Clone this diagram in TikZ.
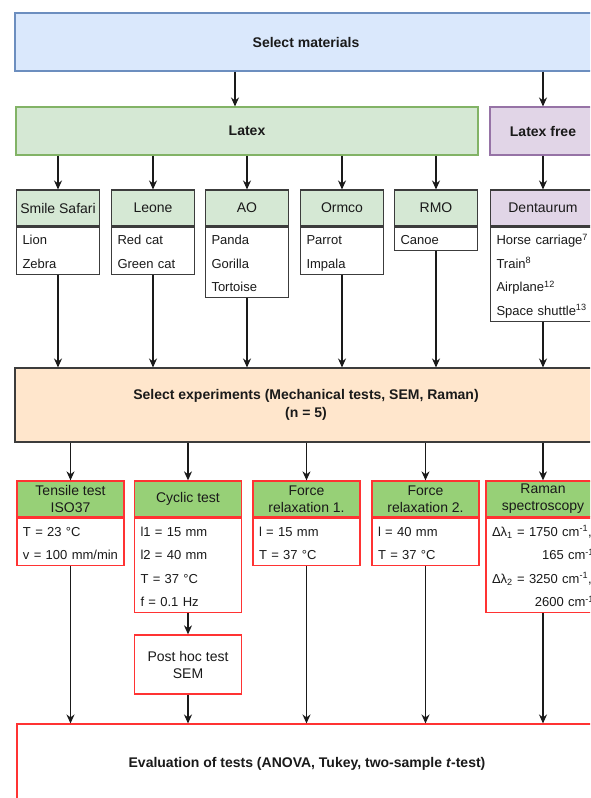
\documentclass[tikz,border=0pt]{standalone}
\usepackage{fontspec}
\setmainfont{Liberation Sans}
\usetikzlibrary{arrows.meta,positioning}
\definecolor{ink}{HTML}{1A1A1A}
\definecolor{bluebg}{HTML}{DAE8FC}
\definecolor{blueline}{HTML}{6C8EBF}
\definecolor{greenbg}{HTML}{D5E8D4}
\definecolor{greenline}{HTML}{82B366}
\definecolor{purplebg}{HTML}{E1D5E7}
\definecolor{purpleline}{HTML}{9673A6}
\definecolor{orangebg}{HTML}{FFE6CC}
\definecolor{testgreen}{HTML}{97D077}
\definecolor{testred}{HTML}{FF3333}
\newcommand\rowstrut{\rule[-2.3pt]{0pt}{16.5pt}}
\tikzset{
  >={Stealth[length=9pt,width=8pt]},
  every node/.style={text=ink,font=\fontsize{13}{15}\selectfont},
  stage/.style={draw=blueline,fill=bluebg,line width=1.1pt,align=center,inner sep=0pt,font=\fontsize{14}{18}\selectfont\bfseries},
  group/.style={stage,draw=greenline,fill=greenbg},
  freegroup/.style={stage,draw=purpleline,fill=purplebg},
  expbox/.style={stage,draw=ink!85,fill=orangebg},
  evalbox/.style={stage,draw=testred,fill=white},
  brand/.style={draw=ink!85,fill=greenbg,line width=1.1pt,minimum width=83pt,minimum height=36pt,inner sep=0pt,font=\fontsize{14}{17}\selectfont},
  itemlist/.style={draw=ink!85,fill=white,line width=1.1pt,text width=71pt,align=left,inner xsep=6pt,inner ysep=0pt,font=\fontsize{13}{23.5}\selectfont,
    execute at begin node=\rowstrut,execute at end node=\rowstrut},
  nrows/.style={minimum height=#1*23.5pt},
  testhead/.style={draw=testred,fill=testgreen,line width=1.3pt,minimum width=107pt,minimum height=36pt,inner sep=0pt,align=center,font=\fontsize{14}{17}\selectfont},
  testlist/.style={itemlist,draw=testred,line width=1.3pt,text width=95pt},
  testbox/.style={testhead,fill=white,minimum height=59pt},
  arrow/.style={->,line width=1.2pt,draw=ink}
}

\begin{document}
\begin{tikzpicture}[x=1pt,y=-1pt,node distance=0pt]
  \useasboundingbox (0,0) rectangle (590,798);
  \clip (0,0) rectangle (590,798);

  \node[stage,minimum width=582pt,minimum height=58pt] (materials) at (306,42) {Select materials};
  \node[group,minimum width=462pt,minimum height=48pt] (latex) at (247,131) {Latex};
  \node[freegroup,minimum width=106pt,minimum height=48pt] (free) at (543,131) {Latex free};

  \draw[arrow] ([xshift=-12pt]latex.north |- materials.south) -- ([xshift=-12pt]latex.north);
  \draw[arrow] (free.north |- materials.south) -- (free.north);

  \node[brand] (smile) at (58,208) {Smile Safari};
  \node[itemlist,nrows=2,below=of smile] (smile-list) {Lion\\Zebra};
  \node[brand] (leone) at (153,208) {Leone};
  \node[itemlist,nrows=2,below=of leone] (leone-list) {Red cat\\Green cat};
  \node[brand] (ao) at (247,208) {AO};
  \node[itemlist,nrows=3,below=of ao] (ao-list) {Panda\\Gorilla\\Tortoise};
  \node[brand] (ormco) at (342,208) {Ormco};
  \node[itemlist,nrows=2,below=of ormco] (ormco-list) {Parrot\\Impala};
  \node[brand] (rmo) at (436,208) {RMO};
  \node[itemlist,nrows=1,below=of rmo] (rmo-list) {Canoe};
  \node[brand,fill=purplebg,minimum width=105pt] (dentaurum) at (543,208) {Dentaurum};
  \node[itemlist,nrows=4,text width=93pt,below=of dentaurum] (dentaurum-list) {Horse carriage\textsuperscript{7}\\Train\textsuperscript{8}\\Airplane\textsuperscript{12}\\Space shuttle\textsuperscript{13}};

  \foreach \brand in {smile,leone,ao,ormco,rmo}
    \draw[arrow] (latex.south -| \brand) -- (\brand.north);
  \draw[arrow] (free) -- (dentaurum);

  \node[expbox,minimum width=582pt,minimum height=74pt] (experiments) at (306,405) {Select experiments (Mechanical tests, SEM, Raman)\\(n = 5)};

  \foreach \brand in {smile,leone,ao,ormco,rmo,dentaurum}
    \draw[arrow] (\brand-list) -- (\brand-list |- experiments.north);

  \node[testhead] (tensile) at (70.5,499) {Tensile test\\ISO37};
  \node[testlist,nrows=2,below=of tensile] (tensile-list) {T = 23 °C\\v = 100 mm/min};
  \node[testhead] (cyclic) at (188,499) {Cyclic test};
  \node[testlist,nrows=4,below=of cyclic] (cyclic-list) {l1 = 15 mm\\l2 = 40 mm\\T = 37 °C\\f = 0.1 Hz};
  \node[testhead] (force1) at (306.5,499) {Force\\relaxation 1.};
  \node[testlist,nrows=2,below=of force1] (force1-list) {l = 15 mm\\T = 37 °C};
  \node[testhead] (force2) at (425.5,499) {Force\\relaxation 2.};
  \node[testlist,nrows=2,below=of force2] (force2-list) {l = 40 mm\\T = 37 °C};
  \node[testhead,minimum width=114pt] (raman) at (543,499) {Raman\\spectroscopy};
  \node[testlist,nrows=4,text width=102pt,below=of raman] (raman-list) {\mbox{Δλ\textsubscript{1} = 1750 cm\textsuperscript{-1},}\\\hspace*{\fill}165 cm\textsuperscript{-1}\\\mbox{Δλ\textsubscript{2} = 3250 cm\textsuperscript{-1},}\\\hspace*{\fill}2600 cm\textsuperscript{-1}};

  \foreach \test in {tensile,cyclic,force1,force2,raman}
    \draw[arrow] (experiments.south -| \test) -- (\test.north);

  \node[testbox] (posthoc) at (188,664.5) {Post hoc test\\SEM};
  \draw[arrow] (cyclic-list) -- (posthoc);

  \node[evalbox,minimum width=580pt,minimum height=80pt] (evaluation) at (307,764) {Evaluation of tests (ANOVA, Tukey, two-sample \textit{t}-test)};

  \foreach \src in {tensile-list,posthoc,force1-list,force2-list,raman-list}
    \draw[arrow] (\src) -- (\src |- evaluation.north);
\end{tikzpicture}
\end{document}
